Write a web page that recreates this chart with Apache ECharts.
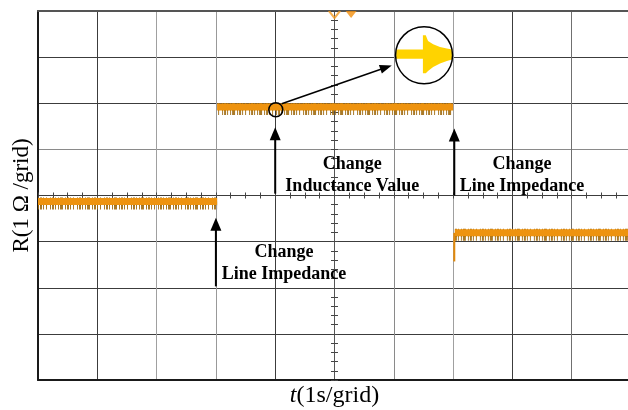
<!DOCTYPE html>
<html>
<head>
<meta charset="utf-8">
<script src="https://cdn.jsdelivr.net/npm/echarts@6/dist/echarts.min.js"></script>
<style>
  html, body { margin: 0; padding: 0; background: #fff; }
  #chart { width: 628px; height: 410px; }
</style>
</head>
<body>
<div id="chart"></div>
<script>
// Time axis: seconds relative to the trigger point, 1 s per grid
const timeRange = [-5, 5];
// Resistance axis: grids relative to the screen centre, 1 Ω per grid
const resRange = [-4, 4];

// Resistance level of each trace segment (grids)
const segStart = [-5, -1.98, 2.03];
const segEnd = [-1.98, 2.0, 5];
const segLevel = [-0.13, 1.92, -0.81];

// Switching transient right after the second line-impedance change
const dipTime = [2.02, 2.02];
const dipLevel = [-0.81, -1.43];

// Oscilloscope trigger markers on the top edge
const triggerTime = [0, 0.28];

// Magnified step of the inductance change (normalised inset units)
const insetTime = [0.01, 0.48, 0.48, 0.53, 0.57, 0.66, 0.78, 0.9, 0.99];
const insetUpper = [0.20, 0.20, 0.70, 0.70, 0.50, 0.39, 0.29, 0.24, 0.20];
const insetLower = [-0.12, -0.12, -0.63, -0.63, -0.55, -0.41, -0.29, -0.20, -0.15];

// Annotation anchors, in axis units
const noteText = ['Change\nInductance Value', 'Change\nLine Impedance', 'Change\nLine Impedance'];
const noteTime = [0.3, 3.16, -0.85];
const noteLevel = [0.43, 0.43, -1.47];
const arrowTime = [-2, -1, 2.02];
const arrowFrom = [-1.97, 0.04, 0.0];
const arrowTo = [-0.48, 1.48, 1.45];
const lensTime = [-0.99, 1.51];
const lensLevel = [1.86, 3.04];
const pointerStart = [-0.89, 1.99];
const pointerEnd = [0.965, 2.82];

const SERIF = '"Liberation Serif", "Times New Roman", serif';
const LENS_R = [7, 28.5];

const xSplitColors = ['#333', '#3c3c3c', '#a0a0a0', '#999', '#3c3c3c', '#555',
                      '#8a8a8a', '#a0a0a0', '#3c3c3c', '#707070', '#3c3c3c'];
const ySplitColors = ['#333', '#3c3c3c', '#3c3c3c', '#3c3c3c', '#3c3c3c',
                      '#8a8a8a', '#3c3c3c', '#3c3c3c', '#555'];

const chart = echarts.init(document.getElementById('chart'), null, { renderer: 'canvas' });

// centre-cross minor tick axes (both sides of the centre lines)
function centreX(inside) {
  return {
    type: 'value', min: timeRange[0], max: timeRange[1], interval: 0.25,
    axisLine: { show: false, onZero: true, onZeroAxisIndex: 0 },
    axisTick: { show: true, inside: inside, length: 3, lineStyle: { color: '#444', width: 1 } },
    axisLabel: { show: false }, splitLine: { show: false }
  };
}
function centreY(inside) {
  return {
    type: 'value', min: resRange[0], max: resRange[1], interval: 0.2,
    axisLine: { show: false, onZero: true, onZeroAxisIndex: 0 },
    axisTick: { show: true, inside: inside, length: 3.5, lineStyle: { color: '#444', width: 1 } },
    axisLabel: { show: false }, splitLine: { show: false }
  };
}

const series = [];
segLevel.forEach((lvl, i) => {
  const pts = [[segStart[i], lvl], [segEnd[i], lvl]];
  // grainy fringe of the sampled trace
  series.push({
    type: 'line', data: pts, symbol: 'none', silent: true, z: 3,
    lineStyle: {
      color: '#9A6810', width: 8, cap: 'butt',
      type: [1, 1, 2, 1, 1, 2, 1, 3, 1, 1, 2, 1, 1, 2, 1, 1, 3, 2],
      dashOffset: i * 7,
      shadowColor: 'rgba(160,108,18,0.9)', shadowOffsetY: 4, shadowBlur: 0
    }
  });
  // trace core
  series.push({
    type: 'line', data: pts, symbol: 'none', silent: true, z: 4,
    lineStyle: { color: '#EE930F', width: 7, cap: 'butt' }
  });
});

series.push({
  type: 'line', data: dipTime.map((t, i) => [t, dipLevel[i]]),
  symbol: 'none', silent: true, z: 4,
  lineStyle: { color: '#E2890A', width: 2 }
});

series.push({
  type: 'scatter', silent: true, z: 6, clip: false,
  data: [
    { value: [triggerTime[0], resRange[1]], symbol: 'path://M0,0 L5,7 L10,0',
      symbolSize: [11, 7], symbolOffset: [0, 3.5],
      itemStyle: { color: 'rgba(0,0,0,0)', borderColor: '#F29A22', borderWidth: 2 } },
    { value: [triggerTime[1], resRange[1]], symbol: 'path://M0,0 L10,0 L5,7 Z',
      symbolSize: [11, 7], symbolOffset: [0, 3.5],
      itemStyle: { color: '#F28E0C' } }
  ]
});

// magnified inset drawn inside the lens
series.push({
  type: 'custom', silent: true, z: 7, clip: false,
  data: [[lensTime[1], lensLevel[1]]],
  renderItem: (params, api) => {
    const c = api.coord([api.value(0), api.value(1)]);
    const R = LENS_R[1];
    const toPx = (u, v) => [c[0] - R + u * 2 * R, c[1] - v * R];
    const up = insetTime.map((u, i) => toPx(u, insetUpper[i]));
    const lo = insetTime.map((u, i) => toPx(u, insetLower[i])).reverse();
    return { type: 'polygon', shape: { points: up.concat(lo) }, style: { fill: '#FFD300' } };
  }
});

chart.setOption({
  animation: false,
  backgroundColor: '#fff',
  grid: { left: 38, top: 11, width: 593, height: 369, outerBoundsMode: 'none', containLabel: false },
  xAxis: [
    {
      type: 'value', min: timeRange[0], max: timeRange[1], interval: 1, position: 'bottom',
      axisLine: { show: true, onZero: false, lineStyle: { color: '#1a1a1a', width: 2 } },
      axisTick: { show: false }, axisLabel: { show: false },
      splitLine: { show: true, lineStyle: { color: xSplitColors, width: 1 } },
      name: '{i|t}(1s/grid)', nameLocation: 'middle', nameGap: 4,
      nameTextStyle: {
        fontFamily: SERIF, fontSize: 24, color: '#000', verticalAlign: 'top',
        rich: { i: { fontFamily: SERIF, fontSize: 24, fontStyle: 'italic', color: '#000' } }
      }
    },
    {
      type: 'value', min: timeRange[0], max: timeRange[1], position: 'top',
      axisLine: { show: true, onZero: false, lineStyle: { color: '#555', width: 2 } },
      axisTick: { show: false }, axisLabel: { show: false }, splitLine: { show: false }
    },
    centreX(false),
    centreX(true)
  ],
  yAxis: [
    {
      type: 'value', min: resRange[0], max: resRange[1], interval: 1, position: 'left',
      axisLine: { show: true, onZero: false, lineStyle: { color: '#1a1a1a', width: 2 } },
      axisTick: { show: false }, axisLabel: { show: false },
      splitLine: { show: true, lineStyle: { color: ySplitColors, width: 1 } },
      name: 'R(1 Ω /grid)', nameLocation: 'middle', nameGap: 5,
      nameTextStyle: { fontFamily: SERIF, fontSize: 23, color: '#000' }
    },
    centreY(false),
    centreY(true)
  ],
  series: series
});

// annotations placed through the axes' own scales
const toPx = (t, r) => chart.convertToPixel({ xAxisIndex: 0, yAxisIndex: 0 }, [t, r]);
const graphics = [];

arrowTime.forEach((t, i) => {
  const a = toPx(t, arrowFrom[i]);
  const b = toPx(t, arrowTo[i]);
  graphics.push({ type: 'line', z: 20, silent: true,
    shape: { x1: a[0], y1: a[1], x2: b[0], y2: b[1] + 10 },
    style: { stroke: '#000', lineWidth: 2 } });
  graphics.push({ type: 'polygon', z: 20, silent: true,
    shape: { points: [[b[0], b[1]], [b[0] - 5.5, b[1] + 13], [b[0] + 5.5, b[1] + 13]] },
    style: { fill: '#000' } });
});

(function () {
  const a = toPx(pointerStart[0], pointerStart[1]);
  const b = toPx(pointerEnd[0], pointerEnd[1]);
  const dx = b[0] - a[0], dy = b[1] - a[1];
  const len = Math.hypot(dx, dy), ux = dx / len, uy = dy / len;
  const hl = 12, hw = 4.5;
  const base = [b[0] - ux * hl, b[1] - uy * hl];
  graphics.push({ type: 'line', z: 20, silent: true,
    shape: { x1: a[0], y1: a[1], x2: base[0] + ux * 2, y2: base[1] + uy * 2 },
    style: { stroke: '#000', lineWidth: 1.5 } });
  graphics.push({ type: 'polygon', z: 20, silent: true,
    shape: { points: [b, [base[0] - uy * hw, base[1] + ux * hw], [base[0] + uy * hw, base[1] - ux * hw]] },
    style: { fill: '#000' } });
})();

lensTime.forEach((t, i) => {
  const c = toPx(t, lensLevel[i]);
  graphics.push({ type: 'circle', z: 21, silent: true,
    shape: { cx: c[0], cy: c[1], r: LENS_R[i] },
    style: { fill: 'none', stroke: '#000', lineWidth: 1.5 } });
});

noteText.forEach((txt, i) => {
  const p = toPx(noteTime[i], noteLevel[i]);
  graphics.push({ type: 'text', z: 22, silent: true, x: p[0], y: p[1],
    style: { text: txt, align: 'center', verticalAlign: 'middle',
      font: 'bold 18px ' + SERIF, lineHeight: 22, fill: '#000' } });
});

chart.setOption({ graphic: graphics });
</script>
</body>
</html>
